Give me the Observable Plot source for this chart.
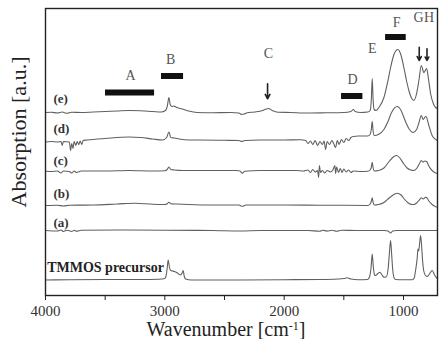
<!DOCTYPE html>
<html><head><meta charset="utf-8">
<script src="https://cdn.jsdelivr.net/npm/d3@7"></script>
<script src="https://cdn.jsdelivr.net/npm/@observablehq/plot@0.6"></script>
<style>body{margin:0;background:#fff;overflow:hidden}</style>
</head><body><div id="chart"></div>
<script>
// ---- trace data (wavenumber in cm-1, absorbance relative to each trace's baseline) ----
const traceNames = ["(e)", "(d)", "(c)", "(b)", "(a)", "TMMOS precursor"];
const traceOffsets = [183, 154, 124, 90, 65, 15.5];
const labelLevels = [197, 167, 135, 102, 73, 28.3];
const labelWave = [3933, 3933, 3933, 3933, 3933, 3986];

const waveE = [4000,3950,3900,3860,3820,3780,3700,3600,3500,3400,3300,3200,3100,3030,2995,2980,2966,2955,2940,2925,2900,2870,2840,2800,2730,2600,2450,2380,2355,2335,2310,2250,2180,2150,2130,2100,2050,1950,1800,1650,1500,1440,1420,1405,1360,1300,1280,1270,1262,1255,1246,1230,1206,1164,1130,1108,1080,1047,1020,997,975,955,935,913,890,871,851,829,806,790,773,750,731,715];
const absE = [0,0.3,-0.5,0.5,-0.8,0.2,0,0.5,1,1.5,2,1.8,1,0.5,2,6,15,8,6,6.5,5,4,3,1.5,0,-0.3,0,-0.5,-2,-1.5,-0.3,0.5,2,3.5,4,2,0.3,0,-0.5,-0.3,0,1,3,1,0,0.5,2,12,34,14,3,2,5,15,32,45,58,63,57,45,32,22,15,12,19,32,47,40,44,33,19,9,5,4];

const waveD = [4000,3950,3900,3870,3860,3850,3800,3790,3780,3770,3760,3745,3735,3720,3710,3695,3685,3650,3500,3300,3200,3100,3020,2985,2966,2950,2920,2880,2800,2700,2500,2380,2355,2330,2200,2000,1863,1820,1800,1780,1760,1740,1720,1700,1680,1665,1653,1640,1620,1600,1585,1569,1555,1540,1520,1500,1480,1460,1440,1420,1380,1300,1280,1270,1262,1255,1245,1210,1164,1130,1100,1053,1020,990,955,920,890,870,851,835,815,806,790,760,730,715];
const absD = [-0.5,0,-0.5,0,-4,0,-0.5,-9,-2,-7,0,-4,0,-3,0.5,-3,1,1.5,3,4.5,4,2.5,1.5,4,9.5,4,3.5,2.5,1.5,1.5,1.2,1,0,1,1.5,1.5,1.7,1,-2,0.5,-3,1,-4,0,-3,0.5,-8,0,-3,1,-2,-6,1,-3,2,-1,3,1,4,5,5.5,5.5,7,12,20,11,6,7,12,20,29,35,31,22,13,9,12,19,26,22,25,24,17,6,2,1];

const waveC = [4000,3950,3900,3870,3850,3800,3780,3760,3740,3700,3500,3300,3100,3000,2980,2966,2950,2920,2850,2700,2400,2370,2351,2330,2200,1900,1838,1800,1780,1760,1740,1720,1711,1705,1695,1680,1660,1640,1610,1590,1575,1569,1560,1545,1530,1515,1500,1480,1460,1440,1420,1360,1300,1280,1270,1262,1255,1245,1210,1164,1120,1080,1058,1030,1000,970,940,913,890,870,851,838,820,806,790,760,730,715];
const absC = [0.3,0,0.5,-1.5,0.5,0,-1.5,0.5,-1,0.5,0.5,1,0.5,0.8,2,4.5,2,1.5,1,1,1,0.5,-1.7,0.3,1,1,0.5,1.5,-1,2,-0.5,1,-6,6,-1,1,-1.5,1,-0.5,2,6,-2,4.5,-1,3,-1,2.5,-0.5,1.5,-1,0.5,0,0.2,1.5,4,9.3,4,0.5,1,3.5,10,15,16,13.5,8,3.5,1.5,1,3,7,11,9.5,10.5,10,6,1,-1.5,-2];

const waveB = [4000,3900,3850,3800,3600,3400,3250,3100,3000,2980,2966,2950,2900,2800,2600,2380,2351,2320,2000,1700,1500,1300,1280,1270,1262,1255,1245,1210,1164,1120,1080,1050,1020,990,960,930,913,890,870,851,835,815,806,790,760,730,715];
const absB = [0,0.3,-0.5,0.3,0.5,1.5,2.3,1.2,1,1.8,3.3,1.8,1.5,1,0.5,0.5,-0.8,0.5,0.5,0.3,0.2,0,1.5,4,7.7,3.5,0.5,1,3,7.5,11,12.3,10.5,6,2.5,1,1,2.5,5,7.7,6.5,8.3,8,5,1,-1.2,-1.7];

const waveA = [4000,3900,3870,3850,3820,3780,3760,3740,3700,3400,3000,2600,2360,2200,1800,1700,1680,1640,1600,1560,1520,1400,1160,1130,1108,1090,1060,900,715];
const absA = [0,-0.5,0.5,-1,0.3,-1,0.3,-0.8,0.2,0.5,0.3,0,-0.5,0,0,-0.8,0.3,-0.6,0.2,-0.8,0.2,0,0,-0.5,-2.5,-0.5,0,0,0];

const waveT = [4000,3800,3500,3200,3050,3000,2990,2980,2972,2962,2950,2935,2920,2895,2870,2855,2846,2838,2825,2780,2500,2000,1700,1550,1500,1471,1440,1380,1300,1285,1272,1262,1252,1242,1234,1215,1198,1180,1164,1145,1128,1118,1108,1100,1090,1078,1066,1000,926,910,899,885,879,873,862,857,850,840,830,815,800,780,759,740,725,715];
const absT = [0,0.3,0.5,0.5,0.8,1.5,4,12,20,13,9.5,9,8.5,7,5,7,9.5,4,1,0,0,0.3,0.5,1,1.5,2.2,1,0.3,0.5,3,12,26,12,5,4.5,6.5,7.8,5,2.8,3,12,27,39.5,27,10,2,0.5,0.2,0.3,2,9.5,22,31,29,40,44.5,37,19.5,9,4.5,3.5,6.5,9.5,5,2.5,1.5];

const traceWaves = [waveE, waveD, waveC, waveB, waveA, waveT];
const traceAbs = [absE, absD, absC, absB, absA, absT];

// ---- band annotations ----
const bandNames = ["A", "B", "D", "F"];
const bandFrom = [3497, 3028, 1519, 1150];
const bandTo = [3086, 2843, 1340, 977];
const bandLevel = [202.5, 219, 199, 258];

const arrowNames = ["C", "G", "H"];
const arrowWave = [2139, 868, 803];
const arrowTop = [211.7, 248.3, 246.7];
const arrowBottom = [196.7, 235, 235];

const letterNames = ["A", "B", "C", "D", "E", "F", "G", "H"];
const letterWave = [3288, 2952, 2131, 1427, 1262, 1058, 873, 785];
const letterLevel = [220, 236, 242, 216, 247, 273.3, 278.3, 278.3];

const xTicks = [4000, 3500, 3000, 2500, 2000, 1500, 1000];

// ---- build tables ----
const rows = traceNames.flatMap((name, i) =>
  traceWaves[i].map((w, j) => ({trace: name, w, v: traceOffsets[i] + traceAbs[i][j]})));
const labels = traceNames.map((name, i) => ({name, w: labelWave[i], v: labelLevels[i]}));
const bands = bandNames.map((n, i) => ({n, x1: bandFrom[i], x2: bandTo[i], y1: bandLevel[i] - 3, y2: bandLevel[i] + 3}));
const arrows = arrowNames.map((n, i) => ({n, w: arrowWave[i], y1: arrowTop[i], y2: arrowBottom[i]}));
const letters = letterNames.map((n, i) => ({n, w: letterWave[i], v: letterLevel[i]}));

const svg = Plot.plot({
  width: 439, height: 339,
  marginLeft: 45, marginRight: 2, marginTop: 8, marginBottom: 44,
  style: {fontFamily: "Liberation Serif, Times New Roman, serif", fontSize: "15px", background: "#fff", color: "#222"},
  x: {domain: [4000, 715]},
  y: {domain: [0, 287], axis: null},
  marks: [
    Plot.line(rows, {x: "w", y: "v", z: "trace", curve: "monotone-x", stroke: "#606060", strokeWidth: 1.1}),
    Plot.rect(bands, {x1: "x1", x2: "x2", y1: "y1", y2: "y2", fill: "#111"}),
    Plot.arrow(arrows, {x1: "w", x2: "w", y1: "y1", y2: "y2", stroke: "#222", strokeWidth: 1.6, headLength: 5, headAngle: 55}),
    Plot.text(letters, {x: "w", y: "v", text: "n", fontSize: 14, fill: "#555"}),
    Plot.text(labels.slice(0, 5), {x: "w", y: "v", text: "name", textAnchor: "start", fontSize: 13, fontWeight: "bold", fill: "#333"}),
    Plot.text(labels.slice(5), {x: "w", y: "v", text: "name", textAnchor: "start", fontSize: 14, fontWeight: "bold", fill: "#222"}),
    Plot.axisX({ticks: xTicks, tickSize: 5, tickPadding: 5, tickFormat: d => d % 1000 ? "" : String(d), label: null, stroke: "#222", fill: "#333"}),
    Plot.frame({stroke: "#222", strokeWidth: 1.4})
  ]
});

const s = d3.select(svg);
s.append("text")
  .attr("transform", "translate(26,132) rotate(-90)")
  .attr("text-anchor", "middle")
  .attr("font-size", 22)
  .attr("fill", "#222")
  .text("Absorption [a.u.]");
const xt = s.append("text")
  .attr("x", 226).attr("y", 336)
  .attr("text-anchor", "middle")
  .attr("font-size", 20)
  .attr("fill", "#222");
xt.append("tspan").text("Wavenumber [cm");
xt.append("tspan").attr("font-size", 12).attr("dy", -6).text("-1");
xt.append("tspan").attr("dy", 6).text("]");

document.getElementById("chart").appendChild(svg);
</script>
</body></html>
